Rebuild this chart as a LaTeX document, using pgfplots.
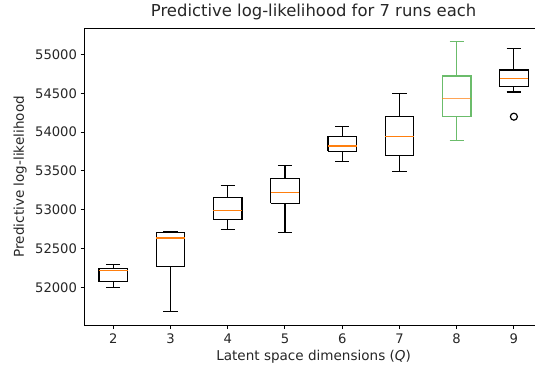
\documentclass[border=0pt]{standalone}
\usepackage{pgfplots}
\pgfplotsset{compat=1.18}
\usepackage{fontspec}
\setmainfont{DejaVu Sans}
\definecolor{mplorange}{HTML}{FF7F0E}
\definecolor{mplgreen}{HTML}{2CA02C}
\definecolor{txt}{HTML}{262626}
\begin{document}
\begin{tikzpicture}
\begin{axis}[name=ax, scale only axis, width=457.8bp, height=296.7bp,
  xmin=1.5, xmax=9.5, ymin=51514, ymax=55338,
  xtick={2,3,4,5,6,7,8,9}, ytick={52000,52500,53000,53500,54000,54500,55000},
  scaled y ticks=false,
  tick align=outside, tick pos=left, major tick length=4.2bp,
  axis line style={line width=1bp}, every tick/.style={black, line width=1bp},
  /pgf/number format/assume math mode=true,
  /pgf/number format/1000 sep={},
  ticklabel style={font=\fontsize{13.2}{15}\selectfont, text=txt},
  xticklabel style={yshift=-1bp},
  label style={font=\fontsize{13.6}{15}\selectfont, text=txt},
  ylabel style={yshift=1.5bp},
  title style={font=\fontsize{16.5}{18}\selectfont, text=txt, yshift=-1bp},
  title={Predictive log-likelihood for 7 runs each},
  xlabel={Latent space dimensions (\textit{Q})},
  ylabel={Predictive log-likelihood},
  unbounded coords=jump,
  box/.style={black, line width=1.2bp, line join=miter, mark=none},
  med/.style={mplorange, line width=1.2bp, mark=none},
]
% box 2: q1, q3, whiskers
\addplot[box] coordinates {(1.75,52073) (2.25,52073) (2.25,52240) (1.75,52240) (1.75,52073) (2,nan) (2,52073) (2,51996) (2,nan) (1.875,51996) (2.125,51996) (2,nan) (2,52240) (2,52296) (2,nan) (1.875,52296) (2.125,52296)};
\addplot[med] coordinates {(1.75,52215) (2.25,52215)};
% box 3
\addplot[box] coordinates {(2.75,52270) (3.25,52270) (3.25,52707) (2.75,52707) (2.75,52270) (3,nan) (3,52270) (3,51688) (3,nan) (2.875,51688) (3.125,51688) (3,nan) (3,52707) (3,52720) (3,nan) (2.875,52720) (3.125,52720)};
\addplot[med] coordinates {(2.75,52635) (3.25,52635)};
% box 4
\addplot[box] coordinates {(3.75,52871) (4.25,52871) (4.25,53157) (3.75,53157) (3.75,52871) (4,nan) (4,52871) (4,52742) (4,nan) (3.875,52742) (4.125,52742) (4,nan) (4,53157) (4,53312) (4,nan) (3.875,53312) (4.125,53312)};
\addplot[med] coordinates {(3.75,52990) (4.25,52990)};
% box 5
\addplot[box] coordinates {(4.75,53080) (5.25,53080) (5.25,53398) (4.75,53398) (4.75,53080) (5,nan) (5,53080) (5,52707) (5,nan) (4.875,52707) (5.125,52707) (5,nan) (5,53398) (5,53569) (5,nan) (4.875,53569) (5.125,53569)};
\addplot[med] coordinates {(4.75,53222) (5.25,53222)};
% box 6
\addplot[box] coordinates {(5.75,53754) (6.25,53754) (6.25,53947) (5.75,53947) (5.75,53754) (6,nan) (6,53754) (6,53625) (6,nan) (5.875,53625) (6.125,53625) (6,nan) (6,53947) (6,54070) (6,nan) (5.875,54070) (6.125,54070)};
\addplot[med] coordinates {(5.75,53822) (6.25,53822)};
% box 7
\addplot[box] coordinates {(6.75,53694) (7.25,53694) (7.25,54204) (6.75,54204) (6.75,53694) (7,nan) (7,53694) (7,53488) (7,nan) (6.875,53488) (7.125,53488) (7,nan) (7,54204) (7,54495) (7,nan) (6.875,54495) (7.125,54495)};
\addplot[med] coordinates {(6.75,53947) (7.25,53947)};
% box 8 (green)
\addplot[box, draw=mplgreen, draw opacity=0.7] coordinates {(7.75,54199) (8.25,54199) (8.25,54722) (7.75,54722) (7.75,54199) (8,nan) (8,54199) (8,53887) (8,nan) (7.875,53887) (8.125,53887) (8,nan) (8,54722) (8,55164) (8,nan) (7.875,55164) (8.125,55164)};
\addplot[med, draw opacity=0.7] coordinates {(7.75,54430) (8.25,54430)};
% box 9
\addplot[box] coordinates {(8.75,54585) (9.25,54585) (9.25,54800) (8.75,54800) (8.75,54585) (9,nan) (9,54585) (9,54517) (9,nan) (8.875,54517) (9.125,54517) (9,nan) (9,54800) (9,55079) (9,nan) (8.875,55079) (9.125,55079)};
\addplot[med] coordinates {(8.75,54693) (9.25,54693)};
% outlier
\addplot[only marks, mark=o, mark size=3.5bp, black, mark options={line width=1.2bp}] coordinates {(9,54199)};
\end{axis}
\pgfresetboundingbox
\useasboundingbox ([xshift=-84.7bp,yshift=-48bp]ax.south west) rectangle ([xshift=-7.5bp,yshift=28.3bp]ax.north east);
\end{tikzpicture}
\end{document}
